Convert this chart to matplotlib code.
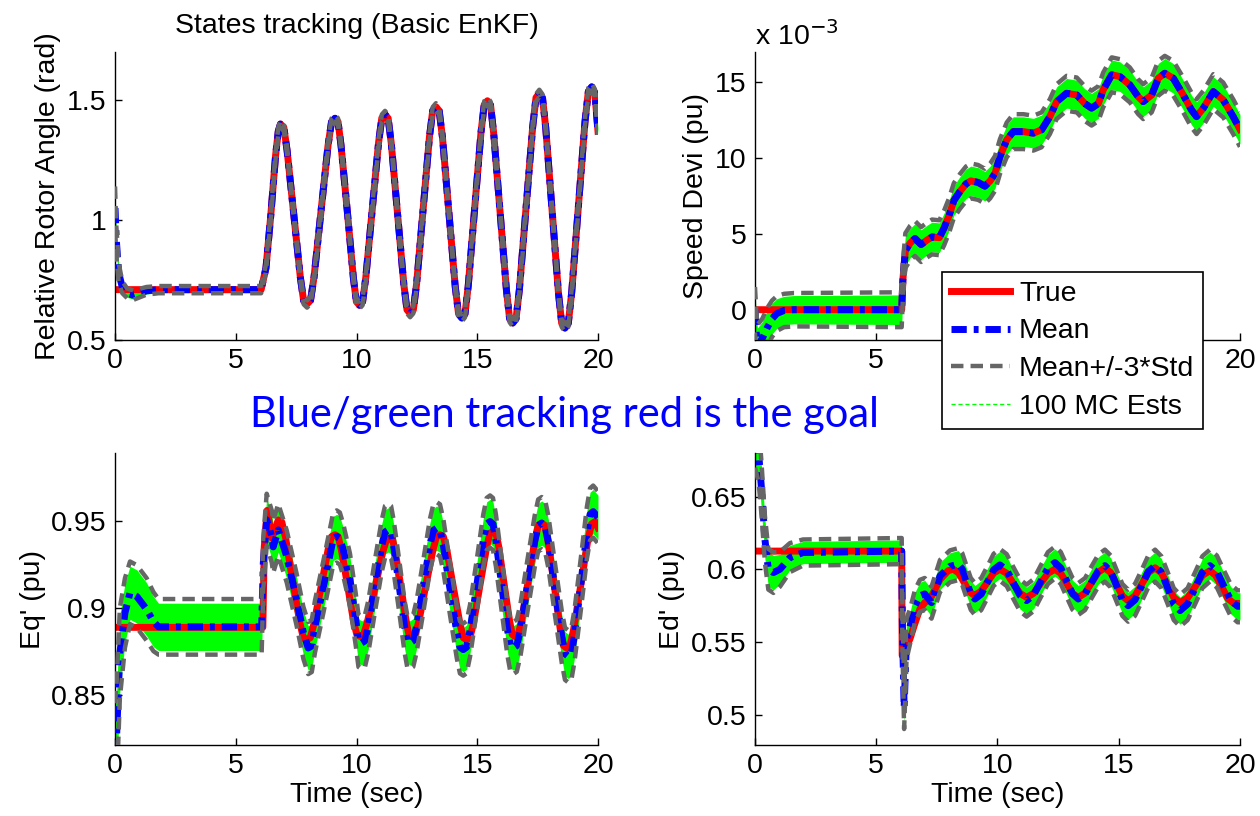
import numpy as np
import matplotlib
matplotlib.use("Agg")
import matplotlib.pyplot as plt
from matplotlib.lines import Line2D
from matplotlib.ticker import FormatStrFormatter

plt.rcParams['font.family'] = ['Liberation Sans', 'DejaVu Sans']
plt.rcParams['font.size'] = 20.5

# ---- rotor angle (rad) ----
t_rotor = [0.0, 6.05, 6.25, 6.45, 6.65, 6.76, 6.85, 6.99, 7.125, 7.40, 7.675, 7.81, 7.95, 8.095,
           8.24, 8.53, 8.82, 8.965, 9.11, 9.236, 9.36, 9.62, 9.87, 9.994, 10.12, 10.2525, 10.385,
           10.65, 10.915, 11.0475, 11.18, 11.31, 11.44, 11.70, 11.96, 12.09, 12.22, 12.354, 12.49,
           12.755, 13.02, 13.156, 13.29, 13.424, 13.56, 13.825, 14.09, 14.226, 14.36, 14.4925,
           14.625, 14.89, 15.155, 15.2875, 15.42, 15.551, 15.68, 15.945, 16.21, 16.339, 16.47,
           16.6075, 16.745, 17.02, 17.295, 17.4325, 17.57, 17.7025, 17.835, 18.10, 18.365, 18.4975,
           18.63, 18.769, 18.91, 19.185, 19.46, 19.601, 19.74, 19.87, 20.0]
rotor_true = [0.71, 0.71, 0.80, 1.02, 1.27, 1.37, 1.40, 1.386, 1.29, 1.025, 0.76, 0.664, 0.65, 0.665,
              0.761, 1.037, 1.31, 1.409, 1.424, 1.409, 1.31, 1.035, 0.759, 0.66, 0.645, 0.66, 0.761,
              1.043, 1.324, 1.425, 1.44, 1.424, 1.319, 1.025, 0.731, 0.626, 0.61, 0.626, 0.736,
              1.041, 1.346, 1.456, 1.472, 1.455, 1.344, 1.032, 0.72, 0.609, 0.592, 0.609, 0.724,
              1.045, 1.365, 1.48, 1.497, 1.479, 1.362, 1.034, 0.706, 0.589, 0.571, 0.589, 0.711,
              1.05, 1.388, 1.51, 1.528, 1.509, 1.385, 1.039, 0.693, 0.569, 0.55, 0.569, 0.697,
              1.053, 1.408, 1.536, 1.555, 1.53, 1.37]
t_rotor_head = [0.0, 0.05, 0.15, 0.3, 0.5, 0.75, 1.0, 1.3, 1.8]
rotor_mean_head = [1.05, 0.92, 0.78, 0.72, 0.695, 0.687, 0.695, 0.705, 0.71]
rotor_band_head = [0.09, 0.06, 0.04, 0.025, 0.02, 0.02, 0.018, 0.016, 0.015]
rotor_band_tail = 0.015

# ---- speed deviation (x 1e-3 pu) ----
t_speed = [0.0, 6.05, 6.1, 6.2, 6.4, 6.6, 6.85, 7.1, 7.3, 7.6, 7.8, 8.0, 8.2, 8.45, 8.7, 8.9, 9.2,
           9.48, 9.7, 9.9, 10.1, 10.38, 10.65, 11.07, 11.48, 11.82, 12.16, 12.44, 12.85, 13.27,
           13.6, 13.88, 14.16, 14.36, 14.71, 15.05, 15.46, 15.8, 16.01, 16.36, 16.63, 16.9, 17.25,
           17.66, 18.0, 18.21, 18.49, 18.9, 19.31, 19.72, 20.0]
speed_true = [0.0, 0.0, 2.0, 3.9, 4.4, 4.7, 4.3, 4.6, 4.8, 4.75, 5.4, 6.2, 7.2, 7.8, 8.3, 8.5, 8.4,
              8.15, 8.5, 9.0, 10.1, 11.2, 11.75, 11.75, 11.65, 11.87, 12.74, 13.73, 14.28, 14.17,
              13.6, 13.3, 13.6, 14.5, 15.5, 15.38, 14.83, 14.06, 13.73, 14.17, 15.27, 15.6, 15.27,
              14.17, 13.18, 12.74, 13.3, 14.39, 13.84, 12.74, 11.9]
t_speed_head = [0.0, 0.05, 0.1, 0.3, 0.5, 0.7, 0.9, 1.2, 1.6]
speed_mean_head = [0.0, -1.5, -2.4, -1.9, -1.2, -0.6, -0.25, -0.05, 0.0]
speed_band_head = [1.5, 1.5, 1.4, 1.3, 1.3, 1.2, 1.15, 1.1, 1.1]
speed_band_tail = 1.15

# ---- Eq' (pu) ----
t_eq = [0.0, 6.12, 6.18, 6.3, 6.5, 6.76, 6.9075, 7.06, 7.35, 7.65, 7.7925, 7.94, 8.086, 8.23, 8.53,
        8.82, 8.964, 9.11, 9.239, 9.37, 9.63, 9.88, 10.011, 10.14, 10.296, 10.45, 10.77, 11.08,
        11.234, 11.39, 11.501, 11.61, 11.84, 12.06, 12.169, 12.28, 12.4275, 12.58, 12.87, 13.17,
        13.3125, 13.46, 13.5975, 13.74, 14.01, 14.29, 14.4225, 14.56, 14.6975, 14.84, 15.11,
        15.39, 15.5225, 15.66, 15.7725, 15.89, 16.11, 16.34, 16.4475, 16.56, 16.699, 16.84,
        17.12, 17.39, 17.531, 17.67, 17.799, 17.93, 18.19, 18.44, 18.571, 18.7, 18.8475, 18.99,
        19.29, 19.58, 19.7325, 19.88, 20.0]
eq_true = [0.8887, 0.8887, 0.935, 0.956, 0.940, 0.9505, 0.9492, 0.9405, 0.916, 0.8917, 0.8829,
           0.8816, 0.8827, 0.8904, 0.9118, 0.9332, 0.9409, 0.942, 0.9409, 0.9335, 0.9128, 0.892,
           0.8846, 0.8835, 0.8846, 0.8918, 0.9118, 0.9317, 0.9389, 0.940, 0.9389, 0.9317, 0.9118,
           0.8918, 0.8846, 0.8835, 0.8846, 0.892, 0.9128, 0.9335, 0.9409, 0.942, 0.9409, 0.9332,
           0.9118, 0.8904, 0.8827, 0.8816, 0.8828, 0.8907, 0.9128, 0.9349, 0.9428, 0.944, 0.9429,
           0.9352, 0.9138, 0.8923, 0.8846, 0.8835, 0.8847, 0.893, 0.9161, 0.9392, 0.9475, 0.9487,
           0.9473, 0.9382, 0.9128, 0.8873, 0.8782, 0.8768, 0.8782, 0.8874, 0.9132, 0.939, 0.9482,
           0.9496, 0.946]
t_eq_mean = [0.0, 0.07, 0.2, 0.41, 0.62, 0.9, 1.31, 1.59, 1.8, 6.07, 6.14, 6.28, 6.49, 6.55, 6.76,
             7.11, 7.52, 7.8, 8.0, 8.1475, 8.28, 8.63, 8.97, 9.0325, 9.18, 9.309, 9.45, 9.73, 9.97,
             10.081, 10.21, 10.349, 10.49, 10.76, 11.04, 11.181, 11.32, 11.431, 11.54, 11.77,
             11.99, 12.099, 12.21, 12.349, 12.49, 12.77, 13.04, 13.181, 13.32, 13.4575, 13.6,
             13.87, 14.15, 14.2825, 14.42, 14.559, 14.7, 14.98, 15.25, 15.391, 15.53, 15.65,
             15.77, 16.01, 16.25, 16.37, 16.49, 16.6375, 16.79, 17.08, 17.38, 17.5225, 17.67,
             17.8075, 17.95, 18.22, 18.5, 18.6325, 18.77, 18.899, 19.03, 19.29, 19.54, 19.671,
             19.8, 20.0]
eq_mean = [0.815, 0.828, 0.874, 0.897, 0.9086, 0.9065, 0.899, 0.892, 0.889, 0.889, 0.9257, 0.9506,
           0.941, 0.935, 0.9448, 0.9295, 0.9046, 0.8855, 0.8768, 0.878, 0.8892, 0.9122, 0.9352,
           0.9398, 0.941, 0.9398, 0.9333, 0.9161, 0.893, 0.8809, 0.8797, 0.8809, 0.8892, 0.9123,
           0.9353, 0.9436, 0.9448, 0.9436, 0.9353, 0.9123, 0.8892, 0.8809, 0.8797, 0.881, 0.8894,
           0.9128, 0.9361, 0.9445, 0.9458, 0.9445, 0.9356, 0.9109, 0.8861, 0.8772, 0.8759, 0.8773,
           0.8867, 0.9128, 0.9388, 0.9482, 0.9496, 0.9482, 0.939, 0.9132, 0.8874, 0.8782, 0.8768,
           0.8782, 0.8873, 0.9128, 0.9382, 0.9473, 0.9487, 0.9472, 0.9375, 0.9104, 0.8832, 0.8735,
           0.872, 0.8736, 0.8842, 0.9137, 0.9431, 0.9537, 0.9553, 0.952]
eq_band_head = [0.03, 0.03, 0.026, 0.02, 0.018, 0.018, 0.018, 0.017, 0.016, 0.016]
eq_band_tail = 0.015

# ---- Ed' (pu) ----
t_ed = [0.0, 6.05, 6.07, 6.2, 6.39, 6.6, 6.8, 7.0, 7.22, 7.45, 7.63, 7.97, 8.18, 8.40, 8.62, 8.83,
        9.05, 9.31, 9.58, 9.84, 10.1, 10.38, 10.65, 10.93, 11.2, 11.49, 11.78, 12.08, 12.37, 12.61,
        12.85, 13.09, 13.33, 13.61, 13.88, 14.16, 14.43, 14.67, 14.91, 15.15, 15.39, 15.67, 15.95,
        16.22, 16.5, 16.76, 17.02, 17.27, 17.53, 17.84, 18.15, 18.45, 18.76, 19.0, 19.25, 19.5,
        19.75, 20.0]
ed_true = [0.6125, 0.6125, 0.5406, 0.545, 0.552, 0.563, 0.5726, 0.577, 0.5795, 0.587, 0.593, 0.599,
           0.600, 0.5974, 0.591, 0.5846, 0.582, 0.5846, 0.591, 0.5974, 0.600, 0.5972, 0.5903,
           0.5834, 0.5806, 0.5834, 0.5903, 0.5972, 0.600, 0.5972, 0.5903, 0.5834, 0.5806, 0.5836,
           0.5908, 0.598, 0.601, 0.5977, 0.5897, 0.5816, 0.5783, 0.5816, 0.5897, 0.5977, 0.601,
           0.5975, 0.589, 0.5805, 0.577, 0.5802, 0.588, 0.5958, 0.599, 0.5957, 0.5878, 0.5798,
           0.5765, 0.5765]
t_ed_mean = [0.0, 0.15, 0.27, 0.41, 0.55, 0.76, 1.03, 1.44, 1.98, 6.05, 6.08, 6.15, 6.25, 6.4, 6.6,
             6.8, 7.0, 7.28, 7.63, 8.04, 8.38, 8.55, 8.72, 8.9, 9.07, 9.33, 9.59, 9.84, 10.1, 10.38,
             10.65, 10.93, 11.2, 11.49, 11.78, 12.08, 12.37, 12.61, 12.85, 13.09, 13.33, 13.61,
             13.88, 14.16, 14.43, 14.67, 14.91, 15.15, 15.39, 15.67, 15.95, 16.22, 16.5, 16.76,
             17.02, 17.27, 17.53, 17.84, 18.15, 18.45, 18.76, 19.05, 19.33, 19.62, 19.9, 20.0]
ed_mean = [0.69, 0.68, 0.655, 0.6205, 0.600, 0.5977, 0.600, 0.608, 0.6115, 0.6125, 0.56, 0.505,
           0.552, 0.561, 0.575, 0.5817, 0.583, 0.577, 0.5954, 0.602, 0.6035, 0.600, 0.5915, 0.583,
           0.5795, 0.5829, 0.5913, 0.5996, 0.603, 0.5994, 0.5907, 0.582, 0.5784, 0.5822, 0.5915,
           0.6008, 0.6046, 0.6009, 0.592, 0.5832, 0.5795, 0.5829, 0.591, 0.5991, 0.6025, 0.5985,
           0.5887, 0.5789, 0.5749, 0.5789, 0.5887, 0.5985, 0.6025, 0.598, 0.587, 0.576, 0.5715,
           0.576, 0.587, 0.598, 0.6025, 0.5984, 0.5885, 0.5786, 0.5745, 0.5745]
ed_band_head = [0.02, 0.02, 0.018, 0.016, 0.014, 0.014, 0.012, 0.01, 0.009, 0.009, 0.014, 0.015,
                0.014, 0.012]
ed_band_tail = 0.011

legend_labels = ['True', 'Mean', 'Mean+/-3*Std', '100 MC Ests']

RED = '#ff0000'
BLUE = '#0000ff'
GRAY = '#666666'
GREEN = '#00ff00'
MEAN_LS = (0, (2.2, 1.0, 0.7, 1.0))
STD_LS = (0, (2.8, 1.6))
LW_MAIN = 5.0
LW_STD = 3.2


def draw(ax, t, true, tm, mean, band):
    tm = np.asarray(tm)
    mean = np.asarray(mean)
    band = np.asarray(band)
    ax.fill_between(tm, mean - 0.85 * band, mean + 0.85 * band, color=GREEN, lw=0, zorder=1)
    ax.plot(t, true, color=RED, lw=LW_MAIN, zorder=2)
    ax.plot(tm, mean, color=BLUE, lw=LW_MAIN, ls=MEAN_LS, zorder=3)
    ax.plot(tm, mean + band, color=GRAY, lw=LW_STD, ls=STD_LS, zorder=4)
    ax.plot(tm, mean - band, color=GRAY, lw=LW_STD, ls=STD_LS, zorder=4)


def style(ax, ylim, yticks):
    ax.set_xlim(0, 20)
    ax.set_ylim(*ylim)
    ax.set_xticks([0, 5, 10, 15, 20])
    ax.set_yticks(yticks)
    ax.yaxis.set_major_formatter(FormatStrFormatter('%g'))
    ax.spines['top'].set_visible(False)
    ax.spines['right'].set_visible(False)
    for s in ('left', 'bottom'):
        ax.spines[s].set_linewidth(1.0)
    ax.tick_params(direction='in', length=5, width=1, pad=6)


fig = plt.figure(figsize=(12.6, 8.16), dpi=100)
ax1 = fig.add_axes([0.0913, 0.5833, 0.3833, 0.3529])
ax2 = fig.add_axes([0.5992, 0.5833, 0.3849, 0.3529])
ax3 = fig.add_axes([0.0913, 0.0870, 0.3833, 0.3578])
ax4 = fig.add_axes([0.5992, 0.0870, 0.3849, 0.3578])

# rotor angle
rot_tm = t_rotor_head + t_rotor[1:]
rot_mean = rotor_mean_head + rotor_true[1:]
rot_band = rotor_band_head + [rotor_band_tail] * (len(t_rotor) - 1)
draw(ax1, t_rotor, rotor_true, rot_tm, rot_mean, rot_band)
style(ax1, (0.5, 1.7), [0.5, 1, 1.5])
ax1.set_ylabel('Relative Rotor Angle (rad)')
ax1.set_title('States tracking (Basic EnKF)', fontsize=20.5, pad=14)

# speed deviation
sp_tm = t_speed_head + t_speed[1:]
sp_mean = speed_mean_head + speed_true[1:]
sp_band = speed_band_head + [speed_band_tail] * (len(t_speed) - 1)
draw(ax2, t_speed, speed_true, sp_tm, sp_mean, sp_band)
style(ax2, (-2, 17), [0, 5, 10, 15])
ax2.set_ylabel('Speed Devi (pu)')
fig.text(755 / 1260, 1 - 36 / 816, r'x 10$^{-3}$', fontsize=20.5, va='center', ha='left')

# Eq'
eq_band = eq_band_head + [eq_band_tail] * (len(t_eq_mean) - len(eq_band_head))
draw(ax3, t_eq, eq_true, t_eq_mean, eq_mean, eq_band)
style(ax3, (0.821, 0.989), [0.85, 0.9, 0.95])
ax3.set_ylabel("Eq' (pu)")
ax3.set_xlabel('Time (sec)', labelpad=2)

# Ed'
ed_band = ed_band_head + [ed_band_tail] * (len(t_ed_mean) - len(ed_band_head))
draw(ax4, t_ed, ed_true, t_ed_mean, ed_mean, ed_band)
style(ax4, (0.479, 0.680), [0.5, 0.55, 0.6, 0.65])
ax4.set_ylabel("Ed' (pu)")
ax4.set_xlabel('Time (sec)', labelpad=2)

fig.text(0.448, 0.492, 'Blue/green tracking red is the goal', color=BLUE,
         family=['Lato', 'DejaVu Sans'], fontsize=30, ha='center', va='center')

handles = [Line2D([], [], color=RED, lw=LW_MAIN),
           Line2D([], [], color=BLUE, lw=LW_MAIN, ls=MEAN_LS),
           Line2D([], [], color=GRAY, lw=LW_STD, ls=STD_LS),
           Line2D([], [], color=GREEN, lw=1.0, ls=(0, (3, 2)))]
leg = fig.legend(handles, legend_labels, loc='upper left',
                 bbox_to_anchor=(942 / 1260, 1 - 272 / 816), fontsize=20.5,
                 frameon=True, fancybox=False, framealpha=1, edgecolor='black',
                 handlelength=2.1, handletextpad=0.3, labelspacing=0.42, borderpad=0.3,
                 borderaxespad=0)
leg.get_frame().set_linewidth(1.2)

fig.savefig('out.png', dpi=100)
